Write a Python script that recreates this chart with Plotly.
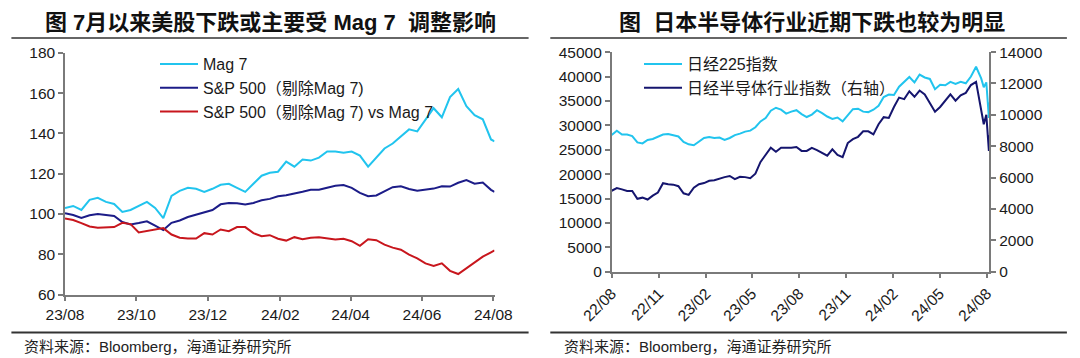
import plotly.graph_objects as go
import pandas as pd

# ---------------- data: left panel (US, weekly) ----------------
us_dates = list(pd.date_range("2023-08-01", periods=53, freq="7D").strftime("%Y-%m-%d")) + ["2024-08-02"]
mag7 = [103, 104, 102, 107, 108, 106, 105, 101, 102, 104, 106, 103, 98, 109, 111.5, 113, 112.5, 111,
        112.5, 114.5, 115, 113, 111, 115, 119, 120.5, 121, 126, 123.5, 127, 126.5, 128, 131, 131, 130.4,
        131, 129, 123.5, 128, 132.5, 135, 138.6, 142, 141, 147, 152.5, 148, 158, 162, 153.5, 149, 147,
        137, 136]
spx_ex = [100.4, 99.5, 98, 99.4, 100, 99.4, 99, 96, 94.8, 95.5, 96.4, 94.2, 92, 95.6, 96.8, 98.5, 99.7,
          101, 102, 104.8, 105.4, 105.3, 104.7, 105.5, 106.8, 107.5, 108.8, 109.3, 110, 111, 112, 112,
          113, 114, 114.4, 113, 110.5, 108.8, 109.2, 111.3, 113.3, 113.8, 112.4, 111.5, 112, 112.6,
          113.8, 113.6, 115.5, 116.8, 115, 115.6, 112, 111]
ratio = [97.8, 97, 95.5, 93.8, 93.2, 93.2, 93.5, 95.6, 95, 90.8, 91.5, 92.5, 93, 89.8, 88.2, 87.8, 87.8,
         90.5, 89.8, 92.3, 91.5, 93.5, 93.5, 90.5, 89, 89.5, 87.7, 86.8, 88.5, 87.5, 88.2, 88.5, 88,
         87.3, 87.7, 86.5, 84.2, 87.5, 87, 84.8, 83.3, 82.3, 79.8, 78, 75.5, 74.2, 75.5, 71.8, 70.2,
         73, 75.8, 78.8, 81, 81.9]
us_names = ["Mag 7", "S&amp;P 500（剔除Mag 7)", "S&amp;P 500（剔除Mag 7) vs Mag 7"]
us_ticks_y = [60, 80, 100, 120, 140, 160, 180]

# ---------------- data: right panel (Japan, ~10-day) ----------------
jp_dates = list(pd.date_range("2022-08-01", periods=73, freq="10D").strftime("%Y-%m-%d")) + \
    ["2024-07-26", "2024-07-31", "2024-08-02", "2024-08-05", "2024-08-06"]
nikkei = [28000, 28900, 28100, 28100, 27800, 26500, 26300, 27000, 27200, 27600,
          28100, 28200, 28000, 27700, 26600, 26100, 25900, 26700, 27400, 27600,
          27400, 27500, 27000, 27400, 28000, 28300, 28700, 28900, 29600, 30800,
          31500, 33000, 33600, 33200, 32400, 32800, 33100, 32300, 31700, 32200,
          33100, 32500, 31800, 31300, 31600, 30800, 32000, 33300, 33400, 32800,
          32700, 33200, 34000, 35800, 36300, 36200, 37900, 38900, 39900, 38800,
          40400, 39800, 39500, 37400, 38300, 38200, 38900, 38500, 38900, 38600,
          40000, 42000, 39600,
          37800, 38800, 35900, 31500, 34700]
semis = [5160, 5330, 5250, 5150, 5150, 4650, 4720, 4600, 4850, 5050,
         5640, 5570, 5550, 5450, 5000, 4900, 5350, 5580, 5650, 5800,
         5830, 5950, 6030, 6100, 5900, 6050, 6030, 5960, 6250, 7000,
         7450, 7900, 7650, 7900, 7900, 7900, 7950, 7700, 7700, 7900,
         7750, 7550, 7400, 7800, 7450, 7300, 8200, 8450, 8600, 8950,
         8950, 8750, 9400, 9850, 9800, 10500, 11100, 11000, 11500, 11150,
         11550, 11300, 10700, 10200, 10500, 10900, 11300, 10900, 11250, 11400,
         11900, 12100, 10400,
         9400, 10000, 8700, 7700, 8700]
jp_names = ["日经225指数", "日经半导体行业指数（右轴）"]

titles = ["图 7月以来美股下跌或主要受 Mag 7  调整影响", "图  日本半导体行业近期下跌也较为明显"]
source = "资料来源：Bloomberg，海通证券研究所"

# ---------------- styling ----------------
# the page body keeps its default 8px margin, so the figure is drawn 8px in from the corner
OFF = 8
W, H = 1080 - OFF, 358 - OFF
def px(x): return (x - OFF) / W
def py(y): return 1 - (y - OFF) / H

CYAN = "#21C4EE"
NAVY = "#1C1C88"
NAVY2 = "#15156E"
RED = "#C8161D"
AXC = "#7A7A7A"
FONT = "Liberation Sans, Arial, Noto Sans CJK SC"
tickfont = dict(family=FONT, size=15.5, color="#1a1a1a")

fig = go.Figure()
fig.add_trace(go.Scatter(x=us_dates, y=mag7, name=us_names[0], mode="lines",
                         line=dict(color=CYAN, width=2), xaxis="x", yaxis="y", legend="legend"))
fig.add_trace(go.Scatter(x=us_dates, y=spx_ex, name=us_names[1], mode="lines",
                         line=dict(color=NAVY, width=2), xaxis="x", yaxis="y", legend="legend"))
fig.add_trace(go.Scatter(x=us_dates, y=ratio, name=us_names[2], mode="lines",
                         line=dict(color=RED, width=2), xaxis="x", yaxis="y", legend="legend"))
fig.add_trace(go.Scatter(x=jp_dates, y=nikkei, name=jp_names[0], mode="lines",
                         line=dict(color=CYAN, width=2), xaxis="x2", yaxis="y2", legend="legend2"))
fig.add_trace(go.Scatter(x=jp_dates, y=semis, name=jp_names[1], mode="lines",
                         line=dict(color=NAVY2, width=2), xaxis="x2", yaxis="y3", legend="legend2"))

axis_common = dict(showline=True, linecolor=AXC, linewidth=1.5, ticks="outside", ticklen=5,
                   tickcolor=AXC, tickwidth=1.5, showgrid=False, zeroline=False, tickfont=tickfont,
                   automargin=False)

fig.update_layout(
    width=W, height=H, margin=dict(l=0, r=0, t=0, b=0, pad=0, autoexpand=False),
    paper_bgcolor="white", plot_bgcolor="white", showlegend=True,
    xaxis=dict(domain=[px(65), px(494.5)], anchor="y", type="date",
               range=["2023-08-01", "2024-08-02"], tick0="2023-08-01", dtick="M2",
               tickformat="%y/%m", **axis_common),
    yaxis=dict(domain=[py(294.6), py(52.8)], anchor="x", range=[60, 180],
               tickvals=us_ticks_y, **axis_common),
    xaxis2=dict(domain=[px(611.7), px(989.4)], anchor="y2", type="date",
                range=["2022-08-01", "2024-08-06"], tick0="2022-08-01", dtick="M3",
                tickformat="%y/%m", tickangle=-45, **axis_common),
    yaxis2=dict(domain=[py(271.7), py(52.1)], anchor="x2", range=[0, 45000], dtick=5000,
                tickformat="d", **axis_common),
    yaxis3=dict(overlaying="y2", side="right", anchor="x2", range=[0, 14000], dtick=2000,
                tickformat="d", **axis_common),
    legend=dict(x=px(155), y=py(47), xanchor="left", yanchor="top", bgcolor="rgba(0,0,0,0)",
                font=dict(family=FONT, size=16, color="#1a1a1a"), tracegroupgap=0, itemwidth=38),
    legend2=dict(x=px(639), y=py(47), xanchor="left", yanchor="top", bgcolor="rgba(0,0,0,0)",
                 font=dict(family=FONT, size=16, color="#1a1a1a"), tracegroupgap=0, itemwidth=38),
)

annotations = []
for t, cx in zip(titles, [270, 812]):
    annotations.append(dict(text="<b>" + t + "</b>", x=px(cx), y=py(23), xref="paper", yref="paper",
                            showarrow=False, xanchor="center", yanchor="middle",
                            font=dict(family="Liberation Sans, Noto Sans CJK SC", size=22, color="#111")))
for lx in [22.4, 562.4]:
    annotations.append(dict(text=source, x=px(lx), y=py(346), xref="paper", yref="paper",
                            showarrow=False, xanchor="left", yanchor="middle",
                            font=dict(family=FONT, size=15, color="#222")))
fig.update_layout(annotations=annotations)

shapes = []
for x0, x1 in [(11.4, 528.6), (550.3, 1066.9)]:
    for yy, wd in [(4.5, 2), (37.9, 1.5), (332.5, 2)]:
        shapes.append(dict(type="line", xref="paper", yref="paper", x0=px(x0), x1=px(x1),
                           y0=py(yy), y1=py(yy), line=dict(color="#333", width=wd)))
fig.update_layout(shapes=shapes)

fig.write_html("out.html")
